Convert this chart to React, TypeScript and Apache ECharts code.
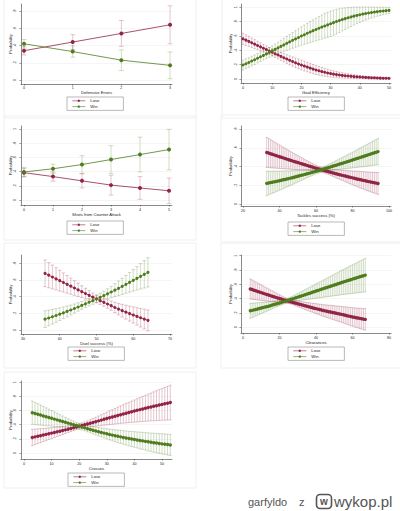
import React, { useEffect, useRef } from 'react';
import * as echarts from 'echarts';

// ---------- helpers ----------
const span = (a: number, b: number) => Array.from({ length: b - a + 1 }, (_, i) => a + i);

// ---------- tick labels ----------
const yTicks08 = [0, 0.2, 0.4, 0.6, 0.8];
const yTicks10 = [0, 0.2, 0.4, 0.6, 0.8, 1];

// ---------- Panel 1: Defensive Errors ----------
const defErrX = [0, 1, 2, 3];
const defErrLose = [0.34, 0.44, 0.54, 0.64];
const defErrLoseCI = [0.05, 0.085, 0.15, 0.22];
const defErrWin = [0.42, 0.33, 0.23, 0.17];
const defErrWinCI = [0.05, 0.065, 0.12, 0.155];
const defErrXTicks = [0, 1, 2, 3];

// ---------- Panel 2: Goal Efficiency ----------
const goalEffX = span(0, 50);
const goalEffLose = [
  0.560, 0.542, 0.524, 0.505, 0.486, 0.467, 0.448, 0.429, 0.410, 0.391,
  0.372, 0.353, 0.334, 0.315, 0.296, 0.278, 0.260, 0.243, 0.226, 0.210,
  0.195, 0.180, 0.166, 0.152, 0.138, 0.125, 0.114, 0.103, 0.093, 0.084,
  0.075, 0.068, 0.061, 0.055, 0.050, 0.045, 0.041, 0.037, 0.033, 0.030,
  0.027, 0.024, 0.022, 0.019, 0.017, 0.016, 0.014, 0.012, 0.011, 0.010,
  0.009,
];
const goalEffLoseCI = [
  0.078, 0.075, 0.071, 0.067, 0.063, 0.059, 0.056, 0.053, 0.051, 0.050,
  0.050, 0.051, 0.053, 0.055, 0.058, 0.061, 0.063, 0.065, 0.067, 0.068,
  0.068, 0.068, 0.067, 0.066, 0.064, 0.062, 0.060, 0.058, 0.055, 0.052,
  0.049, 0.046, 0.043, 0.040, 0.037, 0.034, 0.031, 0.029, 0.026, 0.024,
  0.022, 0.020, 0.018, 0.016, 0.015, 0.013, 0.012, 0.011, 0.010, 0.009,
  0.008,
];
const goalEffWin = [
  0.195, 0.213, 0.231, 0.250, 0.269, 0.289, 0.309, 0.329, 0.350, 0.371,
  0.392, 0.413, 0.434, 0.455, 0.476, 0.497, 0.518, 0.539, 0.559, 0.579,
  0.599, 0.618, 0.637, 0.656, 0.674, 0.691, 0.708, 0.724, 0.740, 0.755,
  0.770, 0.786, 0.801, 0.815, 0.829, 0.842, 0.854, 0.866, 0.877, 0.887,
  0.896, 0.905, 0.913, 0.920, 0.927, 0.933, 0.939, 0.944, 0.949, 0.953,
  0.957,
];
const goalEffWinCI = [
  0.070, 0.069, 0.068, 0.067, 0.066, 0.066, 0.066, 0.066, 0.067, 0.068,
  0.070, 0.075, 0.080, 0.086, 0.092, 0.098, 0.104, 0.110, 0.116, 0.122,
  0.128, 0.134, 0.140, 0.146, 0.152, 0.158, 0.163, 0.168, 0.172, 0.175,
  0.177, 0.176, 0.172, 0.166, 0.158, 0.150, 0.142, 0.134, 0.125, 0.116,
  0.107, 0.099, 0.091, 0.083, 0.076, 0.069, 0.063, 0.057, 0.052, 0.047,
  0.043,
];
const goalEffXTicks = [0, 10, 20, 30, 40, 50];

// ---------- Panel 3: Shots from Counter Attack ----------
const shotsX = [0, 1, 2, 3, 4, 5];
const shotsLose = [0.385, 0.33, 0.27, 0.21, 0.17, 0.13];
const shotsLoseCI = [0.06, 0.065, 0.10, 0.14, 0.16, 0.18];
const shotsWin = [0.395, 0.44, 0.50, 0.57, 0.64, 0.71];
const shotsWinCI = [0.065, 0.065, 0.125, 0.195, 0.245, 0.285];
const shotsXTicks = [0, 1, 2, 3, 4, 5];

// ---------- Panel 4: Tackles success (%) ----------
const tacklesX = span(33, 94);
const tacklesLose = [
  0.550, 0.544, 0.537, 0.531, 0.524, 0.518, 0.511, 0.505, 0.498, 0.492,
  0.486, 0.479, 0.473, 0.467, 0.460, 0.454, 0.448, 0.442, 0.436, 0.430,
  0.424, 0.418, 0.412, 0.406, 0.400, 0.394, 0.388, 0.382, 0.377, 0.371,
  0.366, 0.360, 0.355, 0.349, 0.344, 0.339, 0.333, 0.328, 0.323, 0.318,
  0.313, 0.308, 0.303, 0.298, 0.293, 0.288, 0.284, 0.279, 0.274, 0.270,
  0.265, 0.261, 0.256, 0.252, 0.248, 0.243, 0.239, 0.235, 0.231, 0.227,
  0.223, 0.219,
];
const tacklesLoseCI = [
  0.160, 0.155, 0.150, 0.145, 0.140, 0.135, 0.130, 0.125, 0.120, 0.115,
  0.110, 0.105, 0.100, 0.095, 0.090, 0.085, 0.080, 0.075, 0.070, 0.065,
  0.060, 0.055, 0.051, 0.046, 0.042, 0.038, 0.034, 0.031, 0.029, 0.027,
  0.026, 0.026, 0.027, 0.028, 0.030, 0.033, 0.036, 0.039, 0.042, 0.046,
  0.049, 0.053, 0.056, 0.060, 0.063, 0.067, 0.070, 0.073, 0.077, 0.080,
  0.083, 0.087, 0.090, 0.093, 0.096, 0.099, 0.102, 0.105, 0.108, 0.111,
  0.114, 0.117,
];
const tacklesWin = [
  0.220, 0.224, 0.228, 0.232, 0.236, 0.240, 0.244, 0.249, 0.253, 0.258,
  0.262, 0.267, 0.271, 0.276, 0.281, 0.286, 0.291, 0.296, 0.301, 0.306,
  0.311, 0.316, 0.322, 0.327, 0.332, 0.338, 0.343, 0.349, 0.355, 0.360,
  0.366, 0.372, 0.378, 0.384, 0.390, 0.396, 0.402, 0.408, 0.414, 0.420,
  0.426, 0.432, 0.438, 0.444, 0.451, 0.457, 0.463, 0.469, 0.476, 0.482,
  0.488, 0.495, 0.501, 0.507, 0.514, 0.520, 0.527, 0.533, 0.540, 0.546,
  0.553, 0.559,
];
const tacklesWinCI = [
  0.130, 0.126, 0.122, 0.118, 0.114, 0.110, 0.106, 0.102, 0.098, 0.094,
  0.090, 0.086, 0.082, 0.078, 0.074, 0.070, 0.066, 0.062, 0.058, 0.054,
  0.050, 0.046, 0.042, 0.039, 0.036, 0.033, 0.030, 0.028, 0.027, 0.026,
  0.026, 0.027, 0.028, 0.030, 0.033, 0.036, 0.040, 0.044, 0.048, 0.052,
  0.056, 0.060, 0.064, 0.068, 0.072, 0.076, 0.080, 0.084, 0.088, 0.092,
  0.096, 0.100, 0.104, 0.108, 0.112, 0.116, 0.120, 0.124, 0.128, 0.132,
  0.136, 0.140,
];
const tacklesXTicks = [20, 40, 60, 80, 100];

// ---------- Panel 5: Duel success (%) ----------
const duelX = span(36, 64);
const duelLose = [
  0.680, 0.658, 0.636, 0.614, 0.592, 0.570, 0.548, 0.526, 0.504, 0.482,
  0.460, 0.438, 0.416, 0.394, 0.373, 0.352, 0.332, 0.312, 0.292, 0.270,
  0.251, 0.232, 0.214, 0.197, 0.180, 0.163, 0.147, 0.131, 0.115,
];
const duelLoseCI = [
  0.160, 0.151, 0.142, 0.133, 0.124, 0.115, 0.106, 0.097, 0.088, 0.079,
  0.071, 0.063, 0.056, 0.050, 0.046, 0.045, 0.047, 0.051, 0.056, 0.062,
  0.069, 0.076, 0.083, 0.090, 0.097, 0.104, 0.111, 0.118, 0.125,
];
const duelWin = [
  0.130, 0.144, 0.159, 0.174, 0.190, 0.206, 0.223, 0.240, 0.258, 0.276,
  0.295, 0.314, 0.333, 0.352, 0.372, 0.392, 0.413, 0.434, 0.456, 0.478,
  0.500, 0.524, 0.548, 0.572, 0.596, 0.620, 0.644, 0.668, 0.692,
];
const duelWinCI = [
  0.100, 0.094, 0.088, 0.082, 0.076, 0.070, 0.064, 0.059, 0.054, 0.050,
  0.047, 0.045, 0.044, 0.044, 0.045, 0.048, 0.053, 0.060, 0.068, 0.077,
  0.087, 0.097, 0.107, 0.118, 0.129, 0.140, 0.152, 0.164, 0.176,
];
const duelXTicks = [30, 40, 50, 60, 70];

// ---------- Panel 6: Clearances ----------
const clearX = span(4, 67);
const clearLose = [
  0.535, 0.527, 0.518, 0.510, 0.501, 0.493, 0.484, 0.476, 0.467, 0.459,
  0.450, 0.442, 0.434, 0.426, 0.418, 0.410, 0.402, 0.394, 0.386, 0.378,
  0.370, 0.363, 0.356, 0.349, 0.342, 0.335, 0.328, 0.321, 0.314, 0.307,
  0.300, 0.293, 0.287, 0.280, 0.274, 0.267, 0.261, 0.254, 0.248, 0.241,
  0.235, 0.229, 0.224, 0.218, 0.213, 0.207, 0.202, 0.196, 0.191, 0.185,
  0.180, 0.174, 0.168, 0.162, 0.156, 0.150, 0.144, 0.139, 0.134, 0.129,
  0.124, 0.119, 0.114, 0.110,
];
const clearLoseCI = [
  0.140, 0.135, 0.130, 0.124, 0.119, 0.113, 0.108, 0.102, 0.097, 0.091,
  0.086, 0.080, 0.075, 0.069, 0.064, 0.058, 0.053, 0.047, 0.042, 0.037,
  0.033, 0.031, 0.030, 0.031, 0.033, 0.036, 0.039, 0.042, 0.045, 0.048,
  0.051, 0.054, 0.057, 0.060, 0.063, 0.066, 0.069, 0.072, 0.075, 0.078,
  0.081, 0.084, 0.087, 0.090, 0.093, 0.096, 0.099, 0.102, 0.105, 0.108,
  0.111, 0.114, 0.117, 0.120, 0.123, 0.126, 0.129, 0.132, 0.135, 0.138,
  0.141, 0.144, 0.147, 0.150,
];
const clearWin = [
  0.230, 0.236, 0.243, 0.249, 0.256, 0.262, 0.269, 0.275, 0.282, 0.288,
  0.295, 0.302, 0.310, 0.317, 0.325, 0.332, 0.340, 0.347, 0.355, 0.362,
  0.370, 0.378, 0.387, 0.395, 0.404, 0.412, 0.421, 0.429, 0.438, 0.446,
  0.455, 0.463, 0.472, 0.480, 0.489, 0.497, 0.506, 0.514, 0.523, 0.531,
  0.540, 0.548, 0.557, 0.565, 0.574, 0.582, 0.591, 0.599, 0.608, 0.616,
  0.625, 0.633, 0.641, 0.649, 0.657, 0.665, 0.673, 0.681, 0.689, 0.697,
  0.705, 0.713, 0.721, 0.729,
];
const clearWinCI = [
  0.105, 0.100, 0.096, 0.091, 0.087, 0.082, 0.078, 0.073, 0.069, 0.064,
  0.060, 0.056, 0.052, 0.048, 0.044, 0.041, 0.038, 0.035, 0.033, 0.032,
  0.032, 0.033, 0.035, 0.038, 0.042, 0.046, 0.050, 0.055, 0.060, 0.065,
  0.070, 0.075, 0.080, 0.085, 0.090, 0.095, 0.100, 0.105, 0.110, 0.115,
  0.120, 0.125, 0.130, 0.135, 0.140, 0.145, 0.150, 0.155, 0.160, 0.165,
  0.170, 0.175, 0.180, 0.185, 0.190, 0.195, 0.200, 0.205, 0.210, 0.215,
  0.220, 0.225, 0.230, 0.235,
];
const clearXTicks = [0, 20, 40, 60, 80];

// ---------- Panel 7: Crosses ----------
const crossX = span(3, 53);
const crossLose = [
  0.220, 0.228, 0.237, 0.245, 0.254, 0.263, 0.272, 0.281, 0.290, 0.299,
  0.308, 0.318, 0.327, 0.337, 0.347, 0.357, 0.367, 0.377, 0.388, 0.399,
  0.410, 0.421, 0.432, 0.443, 0.454, 0.465, 0.476, 0.487, 0.498, 0.509,
  0.520, 0.531, 0.542, 0.552, 0.563, 0.573, 0.583, 0.593, 0.603, 0.613,
  0.623, 0.632, 0.642, 0.651, 0.660, 0.669, 0.678, 0.687, 0.696, 0.704,
  0.713,
];
const crossLoseCI = [
  0.115, 0.110, 0.104, 0.099, 0.093, 0.088, 0.082, 0.077, 0.071, 0.066,
  0.061, 0.056, 0.051, 0.047, 0.043, 0.040, 0.038, 0.037, 0.038, 0.040,
  0.043, 0.049, 0.056, 0.062, 0.069, 0.076, 0.083, 0.089, 0.096, 0.103,
  0.110, 0.116, 0.123, 0.130, 0.137, 0.143, 0.150, 0.157, 0.164, 0.170,
  0.177, 0.184, 0.191, 0.197, 0.204, 0.211, 0.218, 0.224, 0.231, 0.238,
  0.245,
];
const crossWin = [
  0.570, 0.559, 0.547, 0.536, 0.524, 0.513, 0.502, 0.490, 0.479, 0.468,
  0.456, 0.445, 0.434, 0.422, 0.411, 0.400, 0.388, 0.377, 0.366, 0.355,
  0.344, 0.333, 0.322, 0.312, 0.301, 0.291, 0.281, 0.271, 0.262, 0.253,
  0.244, 0.236, 0.228, 0.220, 0.212, 0.205, 0.198, 0.191, 0.184, 0.177,
  0.171, 0.164, 0.158, 0.152, 0.146, 0.140, 0.134, 0.129, 0.124, 0.119,
  0.114,
];
const crossWinCI = [
  0.165, 0.157, 0.150, 0.142, 0.134, 0.126, 0.118, 0.110, 0.102, 0.094,
  0.086, 0.078, 0.070, 0.063, 0.056, 0.050, 0.045, 0.042, 0.041, 0.042,
  0.045, 0.048, 0.052, 0.056, 0.060, 0.064, 0.068, 0.072, 0.076, 0.080,
  0.084, 0.088, 0.092, 0.096, 0.099, 0.103, 0.106, 0.110, 0.113, 0.117,
  0.120, 0.123, 0.127, 0.130, 0.133, 0.136, 0.139, 0.142, 0.145, 0.148,
  0.150,
];
const crossXTicks = [0, 10, 20, 30, 40, 50];

// ---------- panel table ----------
const PANELS = [
  { title: 'Defensive Errors', x: defErrX, lose: defErrLose, loseCI: defErrLoseCI, win: defErrWin, winCI: defErrWinCI, xTicks: defErrXTicks, yTicks: yTicks08 },
  { title: 'Goal Efficiency', x: goalEffX, lose: goalEffLose, loseCI: goalEffLoseCI, win: goalEffWin, winCI: goalEffWinCI, xTicks: goalEffXTicks, yTicks: yTicks10 },
  { title: 'Shots from Counter Attack', x: shotsX, lose: shotsLose, loseCI: shotsLoseCI, win: shotsWin, winCI: shotsWinCI, xTicks: shotsXTicks, yTicks: yTicks10 },
  { title: 'Tackles success (%)', x: tacklesX, lose: tacklesLose, loseCI: tacklesLoseCI, win: tacklesWin, winCI: tacklesWinCI, xTicks: tacklesXTicks, yTicks: yTicks08 },
  { title: 'Duel success (%)', x: duelX, lose: duelLose, loseCI: duelLoseCI, win: duelWin, winCI: duelWinCI, xTicks: duelXTicks, yTicks: yTicks08 },
  { title: 'Clearances', x: clearX, lose: clearLose, loseCI: clearLoseCI, win: clearWin, winCI: clearWinCI, xTicks: clearXTicks, yTicks: yTicks10 },
  { title: 'Crosses', x: crossX, lose: crossLose, loseCI: crossLoseCI, win: crossWin, winCI: crossWinCI, xTicks: crossXTicks, yTicks: yTicks10 },
];

// layout (pixels / axis extents), kept apart from the data
const LAYOUT = [
  { l: 21, r: 172, t: 4, b: 84, xMin: -0.062, xMax: 3.04, yMin: -0.046, yMax: 0.881, labM: 2, nGap: 4.5, yLabM: 4, yGap: 8.8, legL: 67, legT: 97, sym: 4, cap: 2.5, frame: [4, -2, 192, 120] },
  { l: 241, r: 391, t: 4, b: 83, xMin: -0.68, xMax: 50.68, yMin: -0.056, yMax: 1.046, labM: 2.6, nGap: 6.5, yLabM: 3.5, yGap: 8.2, legL: 288, legT: 97, sym: 3, cap: 1.2, frame: [222, -2, 180, 120] },
  { l: 21, r: 172, t: 126, b: 205, xMin: -0.103, xMax: 5.103, yMin: -0.07, yMax: 1.042, labM: 3, nGap: 7, yLabM: 4, yGap: 8.8, legL: 67, legT: 221, sym: 4, cap: 2.5, frame: [4, 116, 192, 124] },
  { l: 241, r: 391, t: 126, b: 206, xMin: 18.9, xMax: 101.1, yMin: -0.021, yMax: 0.832, labM: 2.5, nGap: 6.3, yLabM: 3.5, yGap: 8.5, legL: 288, legT: 222, sym: 3.4, cap: 1.0, frame: [221, 115, 180, 127] },
  { l: 21, r: 172, t: 255, b: 334, xMin: 29.46, xMax: 70.54, yMin: -0.048, yMax: 0.9, labM: 2.8, nGap: 5.2, yLabM: 4, yGap: 8.8, legL: 68, legT: 347, sym: 3.1, cap: 1.8, frame: [4, 243, 192, 125] },
  { l: 241, r: 391, t: 255, b: 333, xMin: -1.1, xMax: 81.1, yMin: -0.08, yMax: 1.01, labM: 2.5, nGap: 6.3, yLabM: 3.5, yGap: 8.5, legL: 288, legT: 347, sym: 3.4, cap: 1.0, frame: [221, 243, 180, 125] },
  { l: 21, r: 172, t: 381, b: 459, xMin: -1.087, xMax: 53.62, yMin: -0.085, yMax: 1.018, labM: 2.8, nGap: 6.4, yLabM: 4, yGap: 8.8, legL: 68, legT: 473, sym: 3.4, cap: 1.4, frame: [4, 372, 192, 116] },
];

const LOSE = '#922545';
const WIN = '#4f7d1e';
const FONT = '"Liberation Sans", Arial, Helvetica, sans-serif';
const AXIS = '#3a3a3a';

const fmtY = (v: number) => (v === 0 ? '0' : v === 1 ? '1' : '.' + Math.round(v * 10));

function ciSeries(name: string, idx: number, xs: number[], mean: number[], half: number[], color: string, cap: number) {
  return {
    type: 'custom',
    name,
    xAxisIndex: idx,
    yAxisIndex: idx,
    silent: true,
    clip: false,
    z: 1,
    encode: { x: 0, y: [1, 2] },
    data: xs.map((x, i) => [x, mean[i] - half[i], mean[i] + half[i]]),
    renderItem: (_p: any, api: any) => {
      const x = api.value(0);
      const a = api.coord([x, api.value(1)]);
      const b = api.coord([x, api.value(2)]);
      const style = { stroke: color, lineWidth: 0.5, opacity: 0.5 };
      return {
        type: 'group',
        children: [
          { type: 'line', shape: { x1: a[0], y1: a[1], x2: b[0], y2: b[1] }, style },
          { type: 'line', shape: { x1: a[0] - cap, y1: a[1], x2: a[0] + cap, y2: a[1] }, style },
          { type: 'line', shape: { x1: b[0] - cap, y1: b[1], x2: b[0] + cap, y2: b[1] }, style },
        ],
      };
    },
  };
}

function buildOption() {
  const grid: any[] = [];
  const xAxis: any[] = [];
  const yAxis: any[] = [];
  const series: any[] = [];
  const legend: any[] = [];
  const graphic: any[] = [];

  PANELS.forEach((p, i) => {
    const L = LAYOUT[i];
    graphic.push({
      type: 'rect', silent: true, z: -10,
      shape: { x: L.frame[0], y: L.frame[1], width: L.frame[2], height: L.frame[3] },
      style: { fill: 'none', stroke: '#f0f0f0', lineWidth: 1 },
    });
    grid.push({ left: L.l, top: L.t, width: L.r - L.l, height: L.b - L.t, outerBoundsMode: 'none', containLabel: false });
    xAxis.push({
      type: 'value', gridIndex: i, min: L.xMin, max: L.xMax,
      name: p.title, nameLocation: 'middle', nameGap: L.nGap,
      nameTextStyle: { fontSize: 4.2, color: '#222', fontFamily: FONT },
      axisLine: { show: true, onZero: false, lineStyle: { color: AXIS, width: 0.6 } },
      axisTick: { show: true, length: 1.6, customValues: p.xTicks, lineStyle: { color: AXIS, width: 0.5 } },
      axisLabel: { customValues: p.xTicks, fontSize: 3.6, margin: L.labM, color: '#222', fontFamily: FONT, hideOverlap: false },
      splitLine: { show: false },
    });
    yAxis.push({
      type: 'value', gridIndex: i, min: L.yMin, max: L.yMax,
      name: 'Probability', nameLocation: 'middle', nameGap: L.yGap,
      nameTextStyle: { fontSize: 4.2, color: '#222', fontFamily: FONT },
      axisLine: { show: true, onZero: false, lineStyle: { color: AXIS, width: 0.6 } },
      axisTick: { show: true, length: 1.6, customValues: p.yTicks, lineStyle: { color: AXIS, width: 0.5 } },
      axisLabel: { customValues: p.yTicks, rotate: 90, fontSize: 3.6, margin: L.yLabM, color: '#222', fontFamily: FONT, formatter: fmtY, hideOverlap: false },
      splitLine: { show: true, lineStyle: { color: '#eeeeee', width: 0.6 } },
    });
    series.push(ciSeries('Lose CI', i, p.x, p.lose, p.loseCI, LOSE, L.cap));
    series.push(ciSeries('Win CI', i, p.x, p.win, p.winCI, WIN, L.cap));
    series.push({
      type: 'line', name: 'Lose', xAxisIndex: i, yAxisIndex: i, z: 3,
      data: p.x.map((x, k) => [x, p.lose[k]]),
      symbol: 'circle', symbolSize: L.sym, showSymbol: true, clip: false,
      itemStyle: { color: LOSE }, lineStyle: { color: LOSE, width: 0.8 },
    });
    series.push({
      type: 'line', name: 'Win', xAxisIndex: i, yAxisIndex: i, z: 3,
      data: p.x.map((x, k) => [x, p.win[k]]),
      symbol: 'circle', symbolSize: L.sym, showSymbol: true, clip: false,
      itemStyle: { color: WIN }, lineStyle: { color: WIN, width: 0.8 },
    });
    legend.push({
      data: ['Lose', 'Win'], orient: 'vertical', left: L.legL, top: L.legT,
      padding: [1.5, 24, 1.5, 5], itemGap: 1.2, itemWidth: 13, itemHeight: 3,
      borderColor: '#8a8a8a', borderWidth: 0.6, backgroundColor: '#fff',
      selectedMode: false,
      lineStyle: { width: 0.6 },
      textStyle: { fontSize: 4.2, lineHeight: 4.6, color: '#222', fontFamily: FONT },
    });
  });

  // watermark
  const wm = '#555555';
  graphic.push(
    { type: 'text', x: 248, y: 501.5, style: { text: 'garfyldo', fontSize: 11, fontFamily: '"Liberation Sans", Arial, sans-serif', fill: wm, verticalAlign: 'middle' } },
    { type: 'text', x: 299, y: 501.5, style: { text: 'z', fontSize: 11, fontFamily: '"Liberation Sans", Arial, sans-serif', fill: wm, verticalAlign: 'middle' } },
    { type: 'rect', shape: { x: 316.5, y: 494.5, width: 15, height: 14, r: 3.5 }, style: { fill: 'none', stroke: wm, lineWidth: 1.6 } },
    { type: 'text', x: 324, y: 501.5, style: { text: 'w', fontSize: 10, fontWeight: 'bold', fontFamily: '"Liberation Sans", Arial, sans-serif', fill: wm, align: 'center', verticalAlign: 'middle' } },
    { type: 'text', x: 334, y: 501, style: { text: 'wykop.pl', fontSize: 15, fontFamily: '"Liberation Sans", Arial, sans-serif', fill: wm, verticalAlign: 'middle' } },
  );

  return {
    animation: false,
    backgroundColor: '#ffffff',
    grid, xAxis, yAxis, series, legend, graphic,
  };
}

export default function App() {
  const ref = useRef<HTMLDivElement>(null);
  useEffect(() => {
    if (!ref.current) return;
    const chart = echarts.init(ref.current, undefined, { renderer: 'svg' });
    chart.setOption(buildOption() as any);
    return () => chart.dispose();
  }, []);
  return (
    <div
      ref={ref}
      style={{ position: 'absolute', left: 0, top: 0, width: 400, height: 511, background: '#fff' }}
    />
  );
}
